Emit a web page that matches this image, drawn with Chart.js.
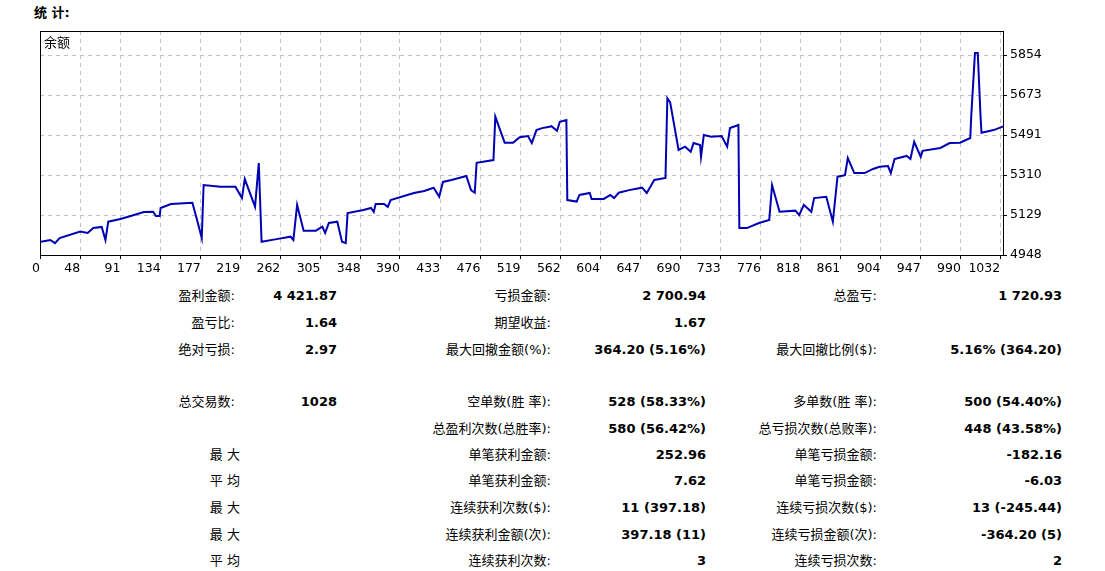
<!DOCTYPE html>
<html>
<head>
<meta charset="utf-8">
<script src="https://cdn.jsdelivr.net/npm/chart.js@4.4.1/dist/chart.umd.min.js"></script>
<style>
  body { margin: 0; background: #fff; font-family: "DejaVu Sans", "Noto Sans CJK SC", sans-serif; font-size: 13px; color: #000; }
  #title { position: absolute; left: 34px; top: 2px; font-weight: bold; font-size: 13px; }
  #wrap { position: absolute; left: 0; top: 20px; width: 1060px; height: 258px; }
  .c { position: absolute; white-space: nowrap; text-align: right; line-height: 18px; height: 18px; }
  .v { font-weight: bold; }
</style>
</head>
<body>
<div id="title">统 计:</div>
<div id="wrap"><canvas id="balanceChart"></canvas></div>
<div id="stats"></div>
<script>
// ============ data ============
const tradeNo = [6,16,21,26,48,56,62,71,75,78,91,102,116,126,129,133,134,145,168,173,178,180,198,214,221,224,235,239,242,
  258,273,276,280,287,300,307,310,314,323,328,332,334,351,359,362,364,373,377,380,405,416,426,432,436,445,461,466,470,472,
  490,492,502,511,518,527,531,536,542,550,552,558,561,568,569,579,582,593,595,608,615,619,624,635,649,654,662,674,676,679,
  688,695,701,704,711,712,715,723,734,740,743,752,753,761,774,785,788,796,813,817,822,830,833,846,853,858,866,869,876,887,
  896,903,912,915,919,932,936,940,947,949,968,978,989,1000,1001,1005,1008,1011,1012,1025,1036];
const balance = [5008,5016,5002,5025,5054,5048,5070,5075,5016,5099,5111,5125,5143,5144,5125,5125,5161,5179,5185,5107,5025,5265,5257,5257,5206,5292,5167,5365,5008,
  5020,5031,5016,5175,5058,5058,5076,5048,5093,5099,5008,5002,5138,5152,5161,5143,5179,5179,5166,5197,5229,5238,5253,5212,5279,5288,5306,5242,5230,5366,
  5378,5575,5457,5457,5482,5487,5455,5514,5523,5529,5532,5511,5552,5560,5197,5190,5220,5229,5202,5202,5220,5206,5230,5242,5253,5229,5288,5297,5658,5640,
  5424,5439,5416,5455,5446,5393,5492,5484,5487,5439,5523,5537,5070,5070,5093,5107,5265,5144,5149,5129,5175,5144,5206,5212,5099,5303,5310,5387,5319,5319,
  5338,5348,5351,5319,5383,5397,5383,5461,5393,5420,5433,5455,5457,5478,5575,5863,5863,5575,5502,5514,5532];
const xTicks = [0,48,91,134,177,219,262,305,348,390,433,476,519,562,604,647,690,733,776,818,861,904,947,990,1032];
const yTicks = [4948,5129,5310,5491,5673,5854];

const points = tradeNo.map((t, i) => ({ x: t, y: balance[i] }));

const X_MIN = 5, X_MAX = 1035;

new Chart(document.getElementById('balanceChart'), {
  type: 'line',
  data: {
    datasets: [{
      data: points,
      borderColor: '#0000b4',
      borderWidth: 2,
      pointRadius: 0,
      tension: 0
    }]
  },
  options: {
    responsive: true,
    maintainAspectRatio: false,
    animation: false,
    layout: { padding: { left: 40, top: 11, right: 0 } },
    plugins: { legend: { display: false }, tooltip: { enabled: false } },
    scales: {
      x: {
        type: 'linear', min: X_MIN, max: X_MAX,
        afterBuildTicks: s => { s.ticks = xTicks.map(v => ({ value: v === 0 ? X_MIN : v })); },
        afterFit: s => { s.height = 23; },
        ticks: {
          autoSkip: false, maxRotation: 0, align: 'end', padding: 2,
          color: '#000', font: { family: 'DejaVu Sans', size: 12.5 },
          callback: (v, i) => String(xTicks[i])
        },
        grid: { color: '#c0c0c0', tickColor: '#000', tickLength: 4 },
        border: { color: '#000', dash: [4, 4] }
      },
      y: {
        position: 'right', min: 4948, max: 5963,
        afterBuildTicks: s => { s.ticks = yTicks.map(v => ({ value: v })); },
        afterFit: s => { s.width = 57; },
        ticks: { color: '#000', padding: 3, font: { family: 'DejaVu Sans', size: 12.5 }, callback: v => String(v) },
        grid: { color: '#c0c0c0', tickColor: '#000', tickLength: 4 },
        border: { color: '#000', dash: [4, 4] }
      }
    }
  },
  plugins: [{
    id: 'frame',
    afterDraw(chart) {
      const { ctx, chartArea: a } = chart;
      ctx.save();
      ctx.strokeStyle = '#000';
      ctx.lineWidth = 1;
      ctx.setLineDash([]);
      ctx.strokeRect(a.left + 0.5, a.top + 0.5, a.right - a.left, a.bottom - a.top);
      ctx.fillStyle = '#000';
      ctx.font = '13px "Noto Sans CJK SC"';
      ctx.textBaseline = 'top';
      ctx.fillText('余额', a.left + 4, a.top + 5);
      ctx.restore();
    }
  }]
});

// ============ stats table ============
const rowY = [296, 323, 350, 402, 429, 455, 481, 508, 535, 561];
const rows = [
  ['盈利金额:', '4 421.87', '亏损金额:', '2 700.94', '总盈亏:', '1 720.93'],
  ['盈亏比:', '1.64', '期望收益:', '1.67', '', ''],
  ['绝对亏损:', '2.97', '最大回撤金额(%):', '364.20 (5.16%)', '最大回撤比例($):', '5.16% (364.20)'],
  ['总交易数:', '1028', '空单数(胜 率):', '528 (58.33%)', '多单数(胜 率):', '500 (54.40%)'],
  ['', '', '总盈利次数(总胜率):', '580 (56.42%)', '总亏损次数(总败率):', '448 (43.58%)'],
  ['最 大', '', '单笔获利金额:', '252.96', '单笔亏损金额:', '-182.16'],
  ['平 均', '', '单笔获利金额:', '7.62', '单笔亏损金额:', '-6.03'],
  ['最 大', '', '连续获利次数($):', '11 (397.18)', '连续亏损次数($):', '13 (-245.44)'],
  ['最 大', '', '连续获利金额(次):', '397.18 (11)', '连续亏损金额(次):', '-364.20 (5)'],
  ['平 均', '', '连续获利次数:', '3', '连续亏损次数:', '2']
];
const colRight = [235, 337, 551, 706, 877, 1062];
let html = '';
rows.forEach((r, i) => {
  r.forEach((txt, j) => {
    if (!txt) return;
    let right = colRight[j];
    if (j === 0 && (txt === '最 大' || txt === '平 均')) right = 240;
    html += `<div class="c${j % 2 ? ' v' : ''}" style="right:${1105 - right}px;top:${rowY[i] - 9}px">${txt}</div>`;
  });
});
document.getElementById('stats').innerHTML = html;
</script>
</body>
</html>
